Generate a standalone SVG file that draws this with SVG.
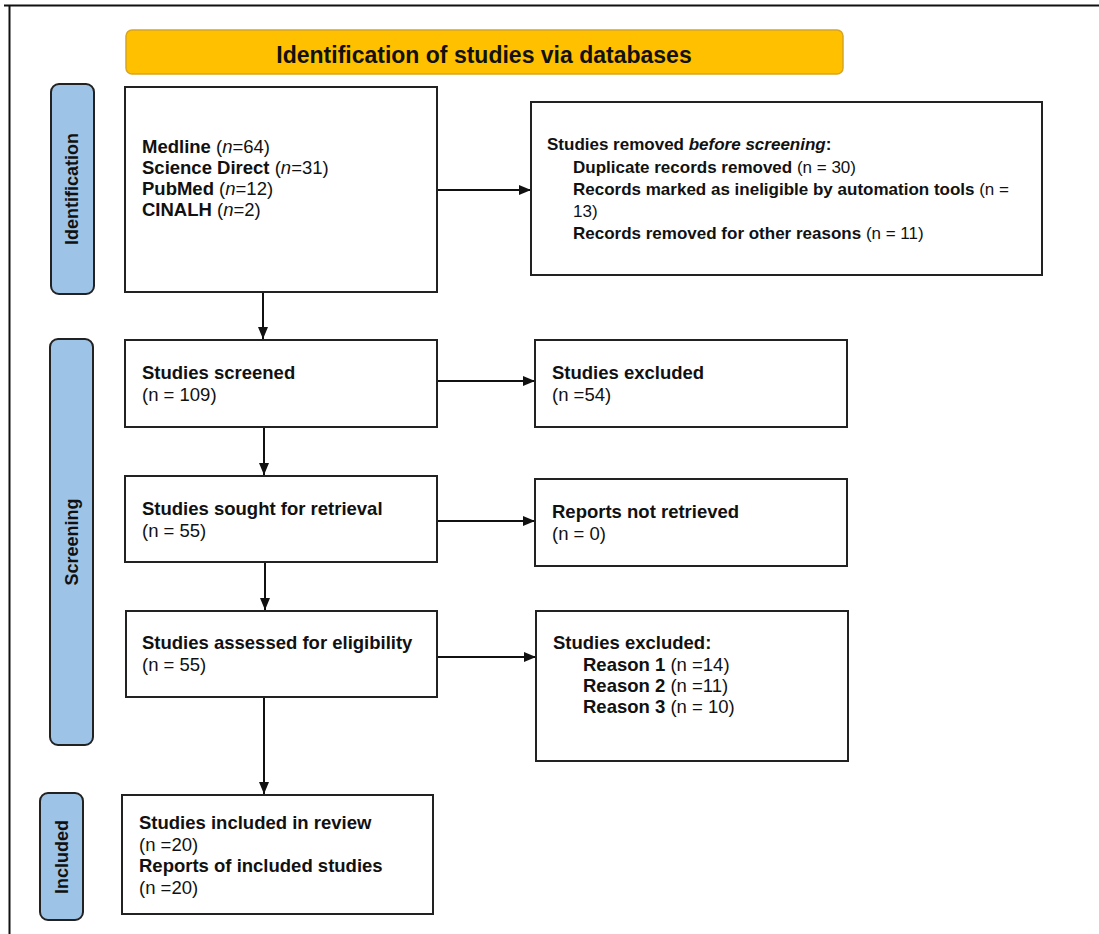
<svg xmlns="http://www.w3.org/2000/svg" width="1099" height="934" viewBox="0 0 1099 934">
<style>
.box{fill:#fff;stroke:#222;stroke-width:2}
.side{fill:#9DC3E6;stroke:#222;stroke-width:2}
.t{font-family:"Liberation Sans",Arial,sans-serif;font-size:18.5px;fill:#111}
.s{font-size:17px}
.b{font-weight:bold}
.st{font-family:"Liberation Sans",Arial,sans-serif;font-size:18px;font-weight:bold;fill:#111}
.con{stroke:#111;stroke-width:2;fill:none}
</style>
<defs>
<marker id="ah" viewBox="0 0 12 10" refX="12" refY="5" markerWidth="12" markerHeight="10" markerUnits="userSpaceOnUse" orient="auto">
<path d="M0,0 L12,5 L0,10 Z" fill="#111"/>
</marker>
</defs>
<rect width="1099" height="934" fill="#fff"/>
<g id="frame">
<line x1="4" y1="5.5" x2="1099" y2="5.5" stroke="#111" stroke-width="2"/>
<line x1="9.5" y1="5" x2="9.5" y2="934" stroke="#111" stroke-width="2"/>
</g>
<g id="banner">
<rect x="126" y="30" width="717" height="44" rx="6" fill="#FFC000" stroke="#D9A520" stroke-width="1.5"/>
<text x="484" y="63" text-anchor="middle" class="t b" style="font-size:23px">Identification of studies via databases</text>
</g>
<g id="side-identification">
<rect class="side" x="51" y="84" width="43" height="210" rx="8"/>
<text class="st" transform="translate(78,189) rotate(-90)" text-anchor="middle">Identification</text>
</g>
<g id="side-screening">
<rect class="side" x="50" y="339" width="43" height="406" rx="8"/>
<text class="st" transform="translate(78,542) rotate(-90)" text-anchor="middle">Screening</text>
</g>
<g id="side-included">
<rect class="side" x="40" y="793" width="43" height="127" rx="8"/>
<text class="st" transform="translate(68,857) rotate(-90)" text-anchor="middle">Included</text>
</g>
<g id="connectors">
<line class="con" x1="437" y1="190" x2="531" y2="190" marker-end="url(#ah)"/>
<line class="con" x1="263" y1="292" x2="263" y2="339" marker-end="url(#ah)"/>
<line class="con" x1="437" y1="381" x2="535" y2="381" marker-end="url(#ah)"/>
<line class="con" x1="264" y1="427" x2="264" y2="475" marker-end="url(#ah)"/>
<line class="con" x1="437" y1="521" x2="535" y2="521" marker-end="url(#ah)"/>
<line class="con" x1="265" y1="562" x2="265" y2="610" marker-end="url(#ah)"/>
<line class="con" x1="438" y1="657" x2="536" y2="657" marker-end="url(#ah)"/>
<line class="con" x1="264" y1="697" x2="264" y2="794" marker-end="url(#ah)"/>
</g>
<g id="databases">
<rect class="box" x="125" y="87" width="312" height="205"/>
<text class="t" x="142" y="153"><tspan class="b">Medline</tspan> (<tspan font-style="italic">n</tspan>=64)</text>
<text class="t" x="142" y="174"><tspan class="b">Science Direct</tspan> (<tspan font-style="italic">n</tspan>=31)</text>
<text class="t" x="142" y="195"><tspan class="b">PubMed</tspan> (<tspan font-style="italic">n</tspan>=12)</text>
<text class="t" x="142" y="216"><tspan class="b">CINALH</tspan> (<tspan font-style="italic">n</tspan>=2)</text>
</g>
<g id="removed">
<rect class="box" x="531" y="102" width="511" height="173"/>
<text class="t s b" x="547" y="150">Studies removed <tspan font-style="italic">before screening</tspan>:</text>
<text class="t s" x="573" y="173"><tspan class="b">Duplicate records removed</tspan> (n = 30)</text>
<text class="t s" x="573" y="195"><tspan class="b">Records marked as ineligible by automation tools</tspan> (n =</text>
<text class="t s" x="573" y="217">13)</text>
<text class="t s" x="573" y="239"><tspan class="b">Records removed for other reasons</tspan> (n = 11)</text>
</g>
<g id="screened">
<rect class="box" x="125" y="340" width="312" height="87"/>
<text class="t b" x="142" y="379">Studies screened</text>
<text class="t" x="142" y="401">(n = 109)</text>
</g>
<g id="excluded1">
<rect class="box" x="535" y="340" width="312" height="87"/>
<text class="t b" x="552" y="379">Studies excluded</text>
<text class="t" x="552" y="401">(n =54)</text>
</g>
<g id="sought">
<rect class="box" x="125" y="476" width="312" height="86"/>
<text class="t b" x="142" y="515">Studies sought for retrieval</text>
<text class="t" x="142" y="537">(n = 55)</text>
</g>
<g id="notretrieved">
<rect class="box" x="535" y="479" width="312" height="87"/>
<text class="t b" x="552" y="518">Reports not retrieved</text>
<text class="t" x="552" y="540">(n = 0)</text>
</g>
<g id="assessed">
<rect class="box" x="126" y="611" width="311" height="86"/>
<text class="t b" x="142" y="649">Studies assessed for eligibility</text>
<text class="t" x="142" y="671">(n = 55)</text>
</g>
<g id="excluded2">
<rect class="box" x="536" y="611" width="312" height="150"/>
<text class="t b" x="553" y="649">Studies excluded:</text>
<text class="t" x="583" y="671"><tspan class="b">Reason 1</tspan> (n =14)</text>
<text class="t" x="583" y="692"><tspan class="b">Reason 2</tspan> (n =11)</text>
<text class="t" x="583" y="713"><tspan class="b">Reason 3</tspan> (n = 10)</text>
</g>
<g id="included">
<rect class="box" x="122" y="795" width="311" height="119"/>
<text class="t b" x="139" y="829">Studies included in review</text>
<text class="t" x="139" y="851">(n =20)</text>
<text class="t b" x="139" y="872">Reports of included studies</text>
<text class="t" x="139" y="894">(n =20)</text>
</g>
</svg>
